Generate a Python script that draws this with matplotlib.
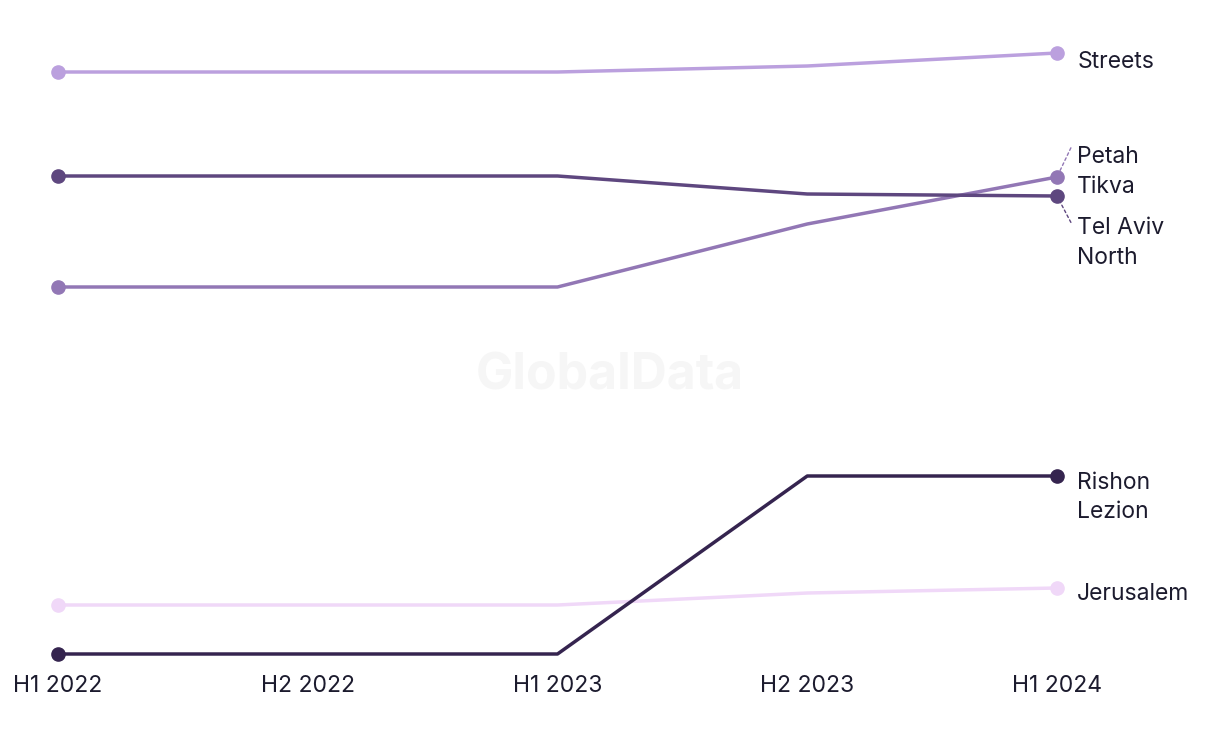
import matplotlib.pyplot as plt

periods = ['H1 2022', 'H2 2022', 'H1 2023', 'H2 2023', 'H1 2024']
streets = [58.8, 58.8, 58.8, 59.4, 60.7]
tel_aviv_north = [48.4, 48.4, 48.4, 46.6, 46.4]
petah_tikva = [37.3, 37.3, 37.3, 43.6, 48.3]
rishon_lezion = [0.6, 0.6, 0.6, 18.4, 18.4]
jerusalem = [5.5, 5.5, 5.5, 6.7, 7.2]

series = [
    ('Jerusalem', jerusalem, '#f0d8f8'),
    ('Streets', streets, '#bba0de'),
    ('Petah\nTikva', petah_tikva, '#9277b5'),
    ('Tel Aviv\nNorth', tel_aviv_north, '#5e477f'),
    ('Rishon\nLezion', rishon_lezion, '#35244f'),
]

plt.rcParams['font.family'] = ['Inter', 'DejaVu Sans']
txt_color = '#1c1b2e'
fs = 16.5
ls = 1.45

fig = plt.figure(figsize=(12.2, 7.44), dpi=100)
ax = fig.add_axes([58 / 1220, 84 / 744, 999 / 1220, 620 / 744])
x = list(range(len(periods)))

for name, vals, col in series:
    ax.plot(x, vals, color=col, lw=2.5, marker='o', markersize=9.5,
            markevery=[0, len(x) - 1], solid_capstyle='round', clip_on=False)

# end labels
ax.annotate('Streets', (4, streets[-1]), xytext=(14.5, -6.5), textcoords='offset points',
            va='center', ha='left', fontsize=fs, color=txt_color, annotation_clip=False)
ax.annotate('Rishon\nLezion', (4, rishon_lezion[-1]), xytext=(14.5, -15.5), textcoords='offset points',
            va='center', ha='left', fontsize=fs, color=txt_color, linespacing=ls,
            annotation_clip=False)
ax.annotate('Jerusalem', (4, jerusalem[-1]), xytext=(14.5, -4), textcoords='offset points',
            va='center', ha='left', fontsize=fs, color=txt_color, annotation_clip=False)

# labels with leader lines for the crowded pair
ax.annotate('', xy=(4, petah_tikva[-1]), xytext=(10, 21), textcoords='offset points',
            arrowprops=dict(arrowstyle='-', ls=(0, (2, 2)), color='#9277b5', lw=1,
                            shrinkA=0, shrinkB=4), annotation_clip=False)
ax.annotate('Petah\nTikva', (4, petah_tikva[-1]), xytext=(14.5, 3.5), textcoords='offset points',
            va='center', ha='left', fontsize=fs, color=txt_color, linespacing=ls,
            annotation_clip=False)
ax.annotate('', xy=(4, tel_aviv_north[-1]), xytext=(10, -19), textcoords='offset points',
            arrowprops=dict(arrowstyle='-', ls=(0, (2, 2)), color='#5e477f', lw=1,
                            shrinkA=0, shrinkB=4), annotation_clip=False)
ax.annotate('Tel Aviv\nNorth', (4, tel_aviv_north[-1]), xytext=(14.5, -34), textcoords='offset points',
            va='center', ha='left', fontsize=fs, color=txt_color, linespacing=ls,
            annotation_clip=False)

fig.text(0.5, 0.495, 'GlobalData', ha='center', va='center', fontsize=36,
         fontweight='bold', color='#f6f6f6', zorder=0)

ax.set_xlim(0, 4)
ax.set_ylim(0, 62)
ax.set_xticks(x)
ax.set_xticklabels(periods, fontsize=fs, color=txt_color)
ax.tick_params(axis='x', length=0, pad=11)
ax.set_yticks([])
for s in ax.spines.values():
    s.set_visible(False)
ax.patch.set_alpha(0)

plt.savefig('out.png', dpi=100)
